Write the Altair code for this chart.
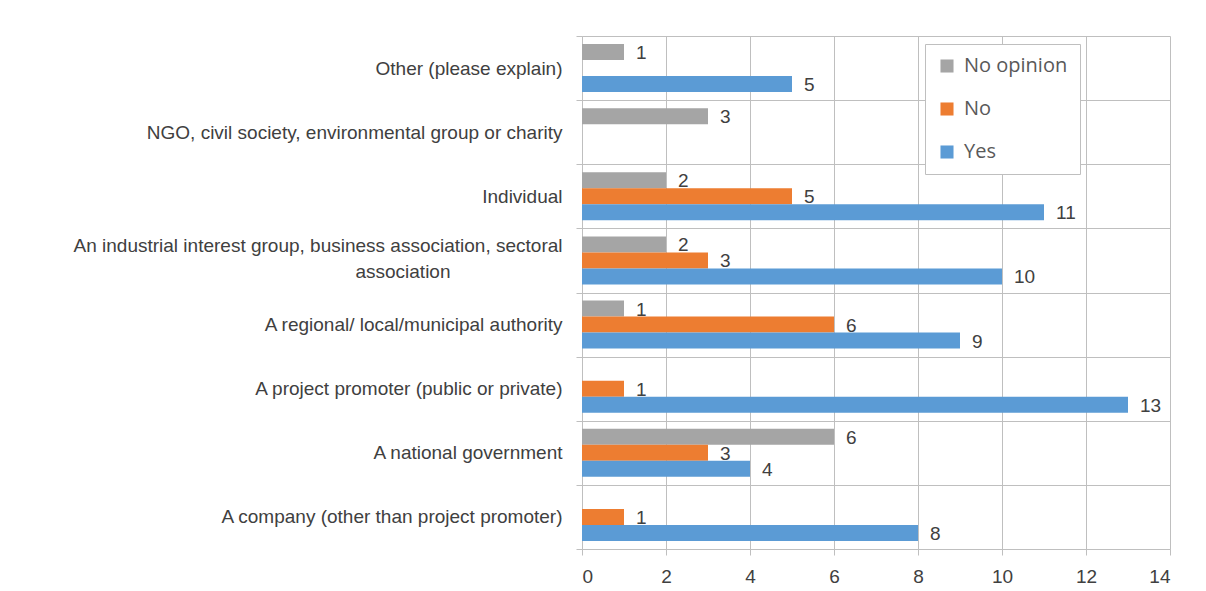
import altair as alt
import pandas as pd

categories = [
    "Other (please explain)",
    "NGO, civil society, environmental group or charity",
    "Individual",
    "An industrial interest group, business association, sectoral association",
    "A regional/ local/municipal authority",
    "A project promoter (public or private)",
    "A national government",
    "A company (other than project promoter)",
]
series = ["No opinion", "No", "Yes"]
no_opinion = [1, 3, 2, 2, 1, 0, 6, 0]
no = [0, 0, 5, 3, 6, 1, 3, 1]
yes = [5, 0, 11, 10, 9, 13, 4, 8]
colors = ["#A5A5A5", "#ED7D31", "#5B9BD5"]
x_ticks = [0, 2, 4, 6, 8, 10, 12, 14]

rows = []
for s, vals in zip(series, [no_opinion, no, yes]):
    for c, v in zip(categories, vals):
        if v > 0:
            rows.append({"category": c, "series": s, "value": v})
df = pd.DataFrame(rows)

FONT = "Liberation Sans"
TXT = "#404040"
GRID = "#bfbfbf"
FS = 19

long_label = "An industrial interest group, business association, sectoral association"
pad = "\u2800" * 8
label_expr = (
    f"datum.value == '{long_label}' "
    f"? ['An industrial interest group, business association, sectoral', 'association{pad}'] : datum.value"
)

y = alt.Y(
    "category:N",
    sort=categories,
    scale=alt.Scale(domain=categories, paddingInner=0, paddingOuter=0),
    axis=alt.Axis(
        title=None,
        labelExpr=label_expr,
        labelFontSize=FS,
        labelColor=TXT,
        labelFont=FONT,
        labelLineHeight=26,
        labelOffset={"condition": {"test": f"datum.value == '{long_label}'", "value": -15}, "value": 0},
        labelPadding=14,
        labelLimit=700,
        tickBand="extent",
        grid=True,
        gridColor=GRID,
        tickColor=GRID,
        tickSize=6,
        domainColor=GRID,
        minExtent=569,
        maxExtent=569,
    ),
)
yoff = alt.YOffset(
    "series:N",
    sort=series,
    scale=alt.Scale(domain=series, paddingInner=0, paddingOuter=0.5),
)
x = alt.X(
    "value:Q",
    scale=alt.Scale(domain=[0, 14], nice=False),
    axis=alt.Axis(
        title=None,
        values=x_ticks,
        labelFontSize=FS,
        labelColor=TXT,
        labelFont=FONT,
        labelPadding=12,
        grid=True,
        gridColor=GRID,
        tickColor=GRID,
        tickSize=6,
        domainColor=GRID,
    ),
)

bars = alt.Chart(df).mark_bar(size=16).encode(
    x=x,
    y=y,
    yOffset=yoff,
    color=alt.Color(
        "series:N",
        sort=series,
        scale=alt.Scale(domain=series, range=colors),
        legend=alt.Legend(
            title=None,
            orient="none",
            legendX=343,
            legendY=8,
            symbolType="square",
            symbolSize=170,
            symbolStrokeWidth=0,
            labelFontSize=20,
            labelFont="Open Sans",
            labelColor="#595959",
            labelOffset=7,
            rowPadding=23,
            padding=12,
            strokeColor=GRID,
            fillColor="white",
        ),
    ),
)

text = alt.Chart(df).mark_text(
    align="left", baseline="middle", dx=12, dy=1, fontSize=FS, font=FONT, color=TXT
).encode(
    x="value:Q",
    y=alt.Y("category:N", sort=categories),
    yOffset=alt.YOffset("series:N", sort=series),
    text="value:Q",
)

chart = (
    alt.layer(bars, text)
    .properties(width=588, height=513, padding={"left": 5, "top": 19, "right": 5, "bottom": 5})
    .configure_view(stroke=None)
)

chart.save("out.html", embed_options={"renderer": "svg", "actions": False})
